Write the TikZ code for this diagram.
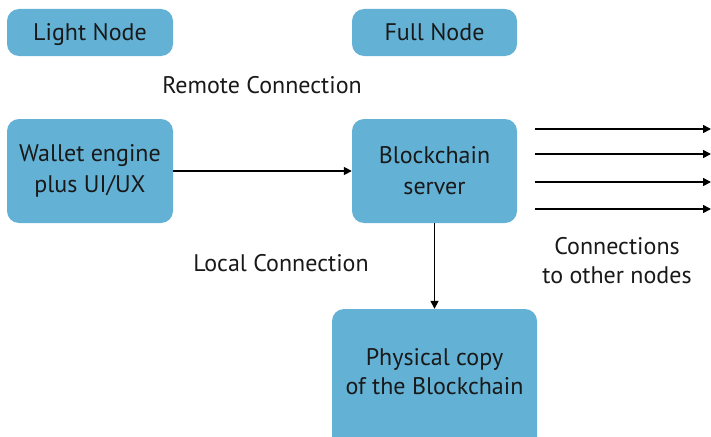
\documentclass[tikz,border=0pt]{standalone}
\usepackage{fontspec}
\setmainfont{PT Sans}
\usetikzlibrary{arrows.meta}
\definecolor{boxblue}{RGB}{99,178,214}
\definecolor{txt}{RGB}{25,25,25}
\tikzset{
  box/.style={rectangle, rounded corners=12pt, fill=boxblue, draw=none, align=center,
    font=\fontsize{24}{31}\selectfont, text=txt, inner sep=0pt},
  onebox/.style={box, text height=20pt, text depth=4pt},
  lbl/.style={align=center, font=\fontsize{24}{29}\selectfont, text=txt, inner sep=0pt},
  conn/.style={line width=1.6pt, -{Triangle[length=8pt,width=8pt]}}
}
\begin{document}
\begin{tikzpicture}[x=1pt,y=-1pt]
\clip (0,0) rectangle (711,436);
\useasboundingbox (0,0) rectangle (711,436);
\node[onebox, minimum width=166, minimum height=47] (light) at (90,32.5) {Light Node};
\node[onebox, minimum width=165, minimum height=47] (full) at (434.5,32.5) {Full Node};
\node[box, minimum width=166, minimum height=104] (wallet) at (90,171) {Wallet engine\\plus UI/UX};
\node[box, minimum width=165, minimum height=104] (server) at (434.5,171) {Blockchain\\server};
\node[box, minimum width=205, minimum height=150] (phys) at (434.5,384) {};
\node[lbl] (physt) at (434.5,372) {Physical copy\\of the Blockchain};
\node[lbl] (remote) at (262,85) {Remote Connection};
\node[lbl] (local) at (281,263) {Local Connection};
\node[lbl] (others) at (617,261) {Connections\\to other nodes};
\draw[conn] (wallet.east) -- (server.west);
\draw[conn] (server.south) -- (phys.north);
\foreach \i/\yy in {1/129,2/154,3/182,4/209}{
  \coordinate (s\i) at (535,\yy);
  \coordinate (e\i) at (711,\yy);
  \draw[conn] (s\i) -- (e\i);
}
\end{tikzpicture}
\end{document}
